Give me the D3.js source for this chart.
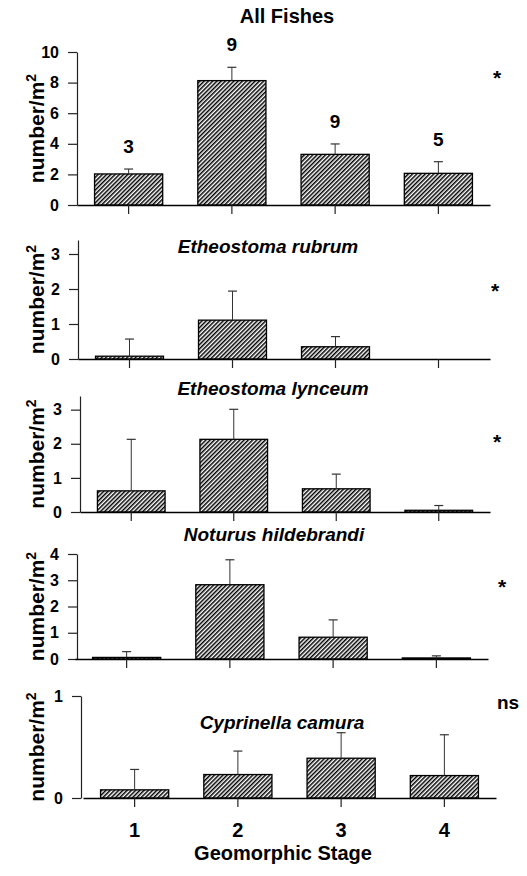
<!DOCTYPE html>
<html>
<head>
<meta charset="utf-8">
<script src="https://cdn.jsdelivr.net/npm/d3@7"></script>
<style>
  body { margin: 0; background: #fff; }
  svg { display: block; font-family: "Liberation Sans", Arial, sans-serif; }
</style>
</head>
<body>
<svg id="chart" width="527" height="876"></svg>
<script>
// data (means and upper SE per geomorphic stage)
const stages = ["1", "2", "3", "4"];
const titles = ["All Fishes", "Etheostoma rubrum", "Etheostoma lynceum", "Noturus hildebrandi", "Cyprinella camura"];
const allFishes = [2.03, 8.13, 3.31, 2.07];
const allFishesErr = [2.35, 9.0, 3.99, 2.83];
const allFishesN = ["3", "9", "9", "5"];
const rubrum = [0.08, 1.11, 0.35, 0];
const rubrumErr = [0.57, 1.94, 0.64, null];
const lynceum = [0.62, 2.13, 0.68, 0.05];
const lynceumErr = [2.13, 3.01, 1.11, 0.19];
const hildebrandi = [0.06, 2.83, 0.83, 0.04];
const hildebrandiErr = [0.28, 3.78, 1.49, 0.12];
const camura = [0.08, 0.23, 0.39, 0.22];
const camuraErr = [0.28, 0.46, 0.64, 0.62];
const signif = ["*", "*", "*", "*", "ns"];
const yMax = [10, 3.4, 3.4, 4, 1];
const yTicks = [[0, 2, 4, 6, 8, 10], [0, 1, 2, 3], [0, 1, 2, 3], [0, 1, 2, 3, 4], [0, 1]];

const series = [
  [allFishes, allFishesErr],
  [rubrum, rubrumErr],
  [lynceum, lynceumErr],
  [hildebrandi, hildebrandiErr],
  [camura, camuraErr]
];

// panel layout (pixels)
const layout = [
  { top: 52, bottom: 205, x0: 77, x1: 490, axisX: 77, tx: 287, ty: 23, italic: false, sx: 497, sy: 85 },
  { top: 240, bottom: 359, x0: 78, x1: 490, axisX: 78, tx: 268, ty: 253, italic: true, sx: 495, sy: 298 },
  { top: 396, bottom: 512, x0: 80, x1: 490, axisX: 80, tx: 273, ty: 395, italic: true, sx: 497, sy: 449 },
  { top: 554, bottom: 659, x0: 75, x1: 488, axisX: 77, tx: 274, ty: 541, italic: true, sx: 502, sy: 594 },
  { top: 696, bottom: 798, x0: 83, x1: 496, axisX: 81, tx: 282, ty: 729, italic: true, sx: 508, sy: 709 }
];

const svg = d3.select("#chart");

// diagonal hatch fill
const pat = svg.append("defs").append("pattern")
  .attr("id", "hatch")
  .attr("patternUnits", "userSpaceOnUse")
  .attr("width", 3)
  .attr("height", 3)
  .attr("patternTransform", "rotate(45)");
pat.append("rect").attr("width", 3).attr("height", 3).attr("fill", "#fff");
pat.append("line")
  .attr("x1", 0.75).attr("y1", -1).attr("x2", 0.75).attr("y2", 4)
  .attr("stroke", "#000").attr("stroke-width", 1.5);

layout.forEach((p, i) => {
  const [vals, errs] = series[i];
  const g = svg.append("g");

  const x = d3.scaleBand()
    .domain(stages)
    .range([p.x0, p.x1])
    .paddingInner(0.34)
    .paddingOuter(0.17);

  const y = d3.scaleLinear()
    .domain([0, yMax[i]])
    .range([p.bottom, p.top]);

  // y axis
  const ya = g.append("g")
    .attr("transform", `translate(${p.axisX},0)`)
    .call(d3.axisLeft(y).tickValues(yTicks[i]).tickFormat(d3.format("d"))
      .tickSize(9).tickSizeOuter(0).tickPadding(9));
  ya.select(".domain").attr("stroke", "#222").attr("stroke-width", 1.2);
  ya.selectAll(".tick line").attr("stroke", "#222").attr("stroke-width", 1.2);
  ya.selectAll(".tick text")
    .attr("font-size", 16).attr("font-weight", "bold").attr("fill", "#000")
    .attr("font-family", "Liberation Sans, Arial, sans-serif");

  const rows = stages.map((s, k) => ({ s, v: vals[k], e: errs[k] }));

  // bars
  g.selectAll("rect.bar")
    .data(rows.filter(d => d.v > 0))
    .enter().append("rect")
    .attr("class", "bar")
    .attr("x", d => x(d.s))
    .attr("y", d => y(d.v))
    .attr("width", x.bandwidth())
    .attr("height", d => Math.max(1, p.bottom - y(d.v)))
    .attr("fill", "url(#hatch)")
    .attr("stroke", "#000")
    .attr("stroke-width", 1.3);

  // upper error bars
  const eb = g.selectAll("g.err")
    .data(rows.filter(d => d.e != null))
    .enter().append("g").attr("class", "err");
  eb.append("line")
    .attr("x1", d => x(d.s) + x.bandwidth() / 2)
    .attr("x2", d => x(d.s) + x.bandwidth() / 2)
    .attr("y1", d => y(d.v))
    .attr("y2", d => y(d.e))
    .attr("stroke", "#333").attr("stroke-width", 1);
  eb.append("line")
    .attr("x1", d => x(d.s) + x.bandwidth() / 2 - 4.5)
    .attr("x2", d => x(d.s) + x.bandwidth() / 2 + 4.5)
    .attr("y1", d => y(d.e))
    .attr("y2", d => y(d.e))
    .attr("stroke", "#333").attr("stroke-width", 1.2);

  // x axis
  const xa = g.append("g")
    .attr("transform", `translate(0,${p.bottom})`)
    .call(d3.axisBottom(x).tickSize(9).tickSizeOuter(0).tickPadding(16)
      .tickFormat(i === 4 ? (d => d) : () => ""));
  xa.select(".domain").attr("stroke", "#000").attr("stroke-width", 1.5);
  xa.selectAll(".tick line").attr("stroke", "#222").attr("stroke-width", 1.2);
  xa.selectAll(".tick text")
    .attr("font-size", 20).attr("font-weight", "bold").attr("fill", "#000")
    .attr("font-family", "Liberation Sans, Arial, sans-serif");

  // sample sizes on the top panel
  if (i === 0) {
    g.selectAll("text.n")
      .data(stages.map((s, k) => ({ s, e: allFishesErr[k], n: allFishesN[k] })))
      .enter().append("text")
      .attr("class", "n")
      .attr("x", d => x(d.s) + x.bandwidth() / 2)
      .attr("y", d => y(d.e) - 16)
      .attr("text-anchor", "middle")
      .attr("font-size", 19).attr("font-weight", "bold")
      .text(d => d.n);
  }

  // panel title
  g.append("text")
    .attr("x", p.tx).attr("y", p.ty)
    .attr("text-anchor", "middle")
    .attr("font-size", p.italic ? 19 : 20)
    .attr("font-weight", "bold")
    .attr("font-style", p.italic ? "italic" : "normal")
    .text(titles[i]);

  // significance mark
  g.append("text")
    .attr("x", p.sx).attr("y", p.sy)
    .attr("text-anchor", "middle")
    .attr("font-size", signif[i] === "ns" ? 19 : 21)
    .attr("font-weight", "bold")
    .text(signif[i]);

  // y axis label
  const yl = g.append("text")
    .attr("transform", `translate(44,${(p.top + p.bottom) / 2}) rotate(-90)`)
    .attr("text-anchor", "middle")
    .attr("font-size", 21)
    .attr("font-weight", "bold");
  yl.append("tspan").text("number/m");
  yl.append("tspan").attr("dy", -8).attr("font-size", 14).text("2");
});

svg.append("text")
  .attr("x", 283).attr("y", 860)
  .attr("text-anchor", "middle")
  .attr("font-size", 20)
  .attr("font-weight", "bold")
  .text("Geomorphic Stage");
</script>
</body>
</html>
